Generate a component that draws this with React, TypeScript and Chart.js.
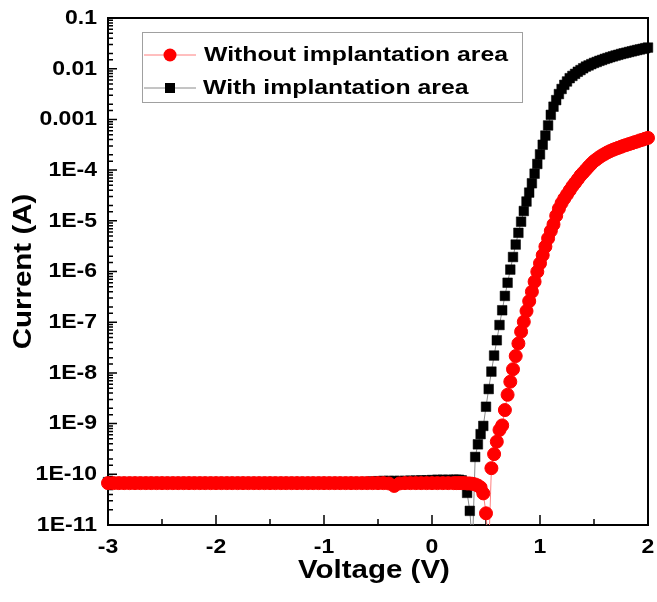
import React, { useEffect, useRef } from "react";
import { Chart, registerables } from "chart.js";

Chart.register(...registerables);

// Bias voltage (V)
const voltage = [
  -3.0, -2.95, -2.9, -2.85, -2.8, -2.75, -2.7, -2.65, -2.6, -2.55,
  -2.5, -2.45, -2.4, -2.35, -2.3, -2.25, -2.2, -2.15, -2.1, -2.05,
  -2.0, -1.95, -1.9, -1.85, -1.8, -1.75, -1.7, -1.65, -1.6, -1.55,
  -1.5, -1.45, -1.4, -1.35, -1.3, -1.25, -1.2, -1.15, -1.1, -1.05,
  -1.0, -0.95, -0.9, -0.85, -0.8, -0.75, -0.7, -0.65, -0.6, -0.55,
  -0.5, -0.45, -0.4, -0.35, -0.3, -0.25, -0.2, -0.15, -0.1, -0.05,
  0.0, 0.05, 0.1, 0.15, 0.2,
  0.225, 0.25, 0.275, 0.3, 0.325, 0.35, 0.375, 0.4, 0.425, 0.45,
  0.475, 0.5, 0.525, 0.55, 0.575, 0.6, 0.625, 0.65, 0.675, 0.7,
  0.725, 0.75, 0.775, 0.8, 0.825, 0.85, 0.875, 0.9, 0.925, 0.95,
  0.975, 1.0, 1.025, 1.05, 1.075, 1.1, 1.125, 1.15, 1.175, 1.2,
  1.225, 1.25, 1.275, 1.3, 1.325, 1.35, 1.375, 1.4, 1.425, 1.45,
  1.475, 1.5, 1.525, 1.55, 1.575, 1.6, 1.625, 1.65, 1.675, 1.7,
  1.725, 1.75, 1.775, 1.8, 1.825, 1.85, 1.875, 1.9, 1.925, 1.95,
  1.975, 2.0,
];

// Current (A) without implantation area (red circles)
const currentWithout = [
  6.7e-11, 6.7e-11, 6.7e-11, 6.7e-11, 6.7e-11, 6.7e-11, 6.7e-11, 6.7e-11, 6.7e-11, 6.7e-11,
  6.7e-11, 6.7e-11, 6.7e-11, 6.7e-11, 6.7e-11, 6.7e-11, 6.7e-11, 6.7e-11, 6.7e-11, 6.7e-11,
  6.7e-11, 6.7e-11, 6.7e-11, 6.7e-11, 6.7e-11, 6.7e-11, 6.7e-11, 6.7e-11, 6.7e-11, 6.7e-11,
  6.7e-11, 6.7e-11, 6.7e-11, 6.7e-11, 6.7e-11, 6.7e-11, 6.7e-11, 6.7e-11, 6.7e-11, 6.7e-11,
  6.7e-11, 6.7e-11, 6.7e-11, 6.7e-11, 6.7e-11, 6.7e-11, 6.7e-11, 6.7e-11, 6.7e-11, 6.7e-11,
  6.7e-11, 6.7e-11, 6.6e-11, 5.9e-11, 6.6e-11, 6.7e-11, 6.7e-11, 6.7e-11, 6.7e-11, 6.7e-11,
  6.7e-11, 6.7e-11, 6.7e-11, 6.7e-11, 6.7e-11,
  6.7e-11, 6.7e-11, 6.7e-11, 6.7e-11, 6.6e-11, 6.6e-11, 6.5e-11, 6.3e-11, 6.0e-11, 5.5e-11,
  4.2e-11, 1.7e-11, 3e-12, 1.32e-10, 2.5e-10, 4.4e-10, 7.5e-10, 9.2e-10, 1.85e-9, 3.7e-9,
  6.7e-9, 1.18e-8, 2.15e-8, 3.8e-8, 6.5e-8, 1.02e-7, 1.66e-7, 2.6e-7, 4.0e-7, 6.3e-7,
  9.9e-7, 1.45e-6, 2.1e-6, 3.1e-6, 4.5e-6, 6.3e-6, 8.5e-6, 1.26e-5, 1.74e-5, 2.24e-5,
  2.75e-5, 3.3e-5, 3.98e-5, 4.8e-5, 5.6e-5, 6.6e-5, 7.8e-5, 8.9e-5, 1.02e-4, 1.17e-4,
  1.33e-4, 1.5e-4, 1.64e-4, 1.8e-4, 1.95e-4, 2.09e-4, 2.24e-4, 2.37e-4, 2.51e-4, 2.63e-4,
  2.75e-4, 2.88e-4, 3.02e-4, 3.13e-4, 3.27e-4, 3.39e-4, 3.55e-4, 3.67e-4, 3.85e-4, 3.98e-4,
  4.17e-4, 4.32e-4,
];

// Current (A) with implantation area (black squares)
const currentWith = [
  7.0e-11, 7.0e-11, 7.0e-11, 7.0e-11, 7.0e-11, 7.0e-11, 7.0e-11, 7.0e-11, 7.0e-11, 7.0e-11,
  7.0e-11, 7.0e-11, 7.0e-11, 7.0e-11, 7.0e-11, 7.0e-11, 7.0e-11, 7.0e-11, 7.0e-11, 7.0e-11,
  7.0e-11, 7.0e-11, 7.0e-11, 7.0e-11, 7.0e-11, 7.0e-11, 7.0e-11, 7.0e-11, 7.0e-11, 7.0e-11,
  7.0e-11, 7.0e-11, 7.0e-11, 7.0e-11, 7.0e-11, 7.0e-11, 7.0e-11, 7.0e-11, 7.0e-11, 7.0e-11,
  7.0e-11, 7.0e-11, 7.0e-11, 7.0e-11, 7.0e-11, 7.0e-11, 7.0e-11, 7.0e-11, 7.1e-11, 7.2e-11,
  7.3e-11, 7.4e-11, 7.4e-11, 7.4e-11, 7.4e-11, 7.4e-11, 7.5e-11, 7.5e-11, 7.6e-11, 7.6e-11,
  7.7e-11, 7.8e-11, 7.8e-11, 7.8e-11, 7.8e-11,
  7.8e-11, 7.8e-11, 7.6e-11, 6.8e-11, 4.3e-11, 1.9e-11, 4e-12, 2.2e-10, 3.9e-10, 6.2e-10,
  9.0e-10, 2.15e-9, 4.8e-9, 1.06e-8, 2.2e-8, 4.4e-8, 8.8e-8, 1.72e-7, 3.3e-7, 6.0e-7,
  1.09e-6, 1.93e-6, 3.4e-6, 5.8e-6, 9.6e-6, 1.56e-5, 2.4e-5, 3.6e-5, 5.5e-5, 8.5e-5,
  1.32e-4, 2.04e-4, 3.16e-4, 4.8e-4, 7.6e-4, 1.23e-3, 1.78e-3, 2.4e-3, 3.16e-3, 3.98e-3,
  4.8e-3, 5.6e-3, 6.5e-3, 7.2e-3, 7.9e-3, 8.7e-3, 9.4e-3, 1.02e-2, 1.1e-2, 1.16e-2,
  1.23e-2, 1.3e-2, 1.36e-2, 1.43e-2, 1.49e-2, 1.56e-2, 1.62e-2, 1.69e-2, 1.75e-2, 1.82e-2,
  1.88e-2, 1.95e-2, 2.01e-2, 2.07e-2, 2.14e-2, 2.2e-2, 2.27e-2, 2.34e-2, 2.4e-2, 2.47e-2,
  2.54e-2, 2.61e-2,
];

const seriesLabels = ["Without implantation area", "With implantation area"];
const yTickLabels = ["0.1", "0.01", "0.001", "1E-4", "1E-5", "1E-6", "1E-7", "1E-8", "1E-9", "1E-10", "1E-11"];
const xTickLabels = ["-3", "-2", "-1", "0", "1", "2"];
const xTitle = "Voltage (V)";
const yTitle = "Current (A)";

const FONT = '"Liberation Sans", Arial, Helvetica, sans-serif';
const STRETCH = 1.18;

const isMajorLog = (v: number) => {
  const e = Math.log10(v);
  return Math.abs(e - Math.round(e)) < 1e-6;
};

function wideText(ctx: any, text: string, x: number, y: number, align: string, size: number, rotate = 0) {
  ctx.save();
  ctx.translate(x, y);
  if (rotate) ctx.rotate(rotate);
  ctx.scale(STRETCH, 1);
  ctx.font = `bold ${size}px ${FONT}`;
  ctx.textAlign = align;
  ctx.textBaseline = "middle";
  ctx.fillStyle = "#000";
  ctx.fillText(text, 0, 0);
  ctx.restore();
}

const axesPlugin = {
  id: "inwardAxes",
  beforeDatasetsDraw(chart: any) {
    const { ctx, chartArea: a, scales } = chart;
    const xs = scales.x;
    const ys = scales.y;
    ctx.save();
    ctx.strokeStyle = "#000";
    ctx.lineWidth = 1.5;
    ctx.beginPath();
    ys.ticks.forEach((t: any) => {
      const py = ys.getPixelForValue(t.value);
      const len = isMajorLog(t.value) ? 9 : 5;
      ctx.moveTo(a.left, py);
      ctx.lineTo(a.left + len, py);
    });
    for (let i = 0; i <= 10; i++) {
      const v = xs.min + i * 0.5;
      const px = xs.getPixelForValue(v);
      const len = i % 2 === 0 ? 10 : 6;
      ctx.moveTo(px, a.bottom);
      ctx.lineTo(px, a.bottom - len);
    }
    ctx.stroke();
    ctx.lineWidth = 2;
    ctx.strokeRect(a.left, a.top, a.right - a.left, a.bottom - a.top);
    ctx.restore();
  },
  afterDraw(chart: any) {
    const { ctx, chartArea: a, scales } = chart;
    const xs = scales.x;
    const ys = scales.y;
    ys.ticks.forEach((t: any) => {
      if (!isMajorLog(t.value)) return;
      const e = Math.round(Math.log10(t.value));
      const label = yTickLabels[-1 - e];
      if (label) wideText(ctx, label, 97, ys.getPixelForValue(t.value) + 0.5, "right", 19.5);
    });
    xTickLabels.forEach((label) => {
      wideText(ctx, label, xs.getPixelForValue(Number(label)), a.bottom + 23, "center", 19.5);
    });
    wideText(ctx, xTitle, (a.left + a.right) / 2 - 4, 571, "center", 25);
    wideText(ctx, yTitle, 24, (a.top + a.bottom) / 2, "center", 25, -Math.PI / 2);
  },
};

const legendPlugin = {
  id: "insideLegend",
  afterDraw(chart: any) {
    const { ctx } = chart;
    const ds = chart.data.datasets;
    ctx.save();
    ctx.strokeStyle = "#a0a0a0";
    ctx.lineWidth = 1;
    ctx.strokeRect(142.5, 32.5, 380, 70);
    const rows = [55, 88];
    ds.forEach((d: any, i: number) => {
      const y = rows[i];
      ctx.strokeStyle = d.borderColor;
      ctx.lineWidth = 1;
      ctx.beginPath();
      ctx.moveTo(144, y);
      ctx.lineTo(196, y);
      ctx.stroke();
      ctx.fillStyle = d.pointBackgroundColor;
      if (d.pointStyle === "circle") {
        ctx.beginPath();
        ctx.arc(170, y, 6.5, 0, Math.PI * 2);
        ctx.fill();
      } else {
        ctx.fillRect(165, y - 5, 10, 10);
      }
      wideText(ctx, d.label, i === 0 ? 204 : 203, y, "left", 21);
    });
    ctx.restore();
  },
};

export default function App() {
  const ref = useRef<HTMLCanvasElement | null>(null);

  useEffect(() => {
    if (!ref.current) return;
    const chart = new Chart(ref.current, {
      type: "line",
      data: {
        labels: voltage,
        datasets: [
          {
            label: seriesLabels[0],
            data: voltage.map((v, i) => ({ x: v, y: currentWithout[i] })),
            borderColor: "#ff7f7f",
            borderWidth: 1,
            pointStyle: "circle",
            pointRadius: 6.5,
            pointBorderWidth: 1,
            pointBackgroundColor: "#ff0000",
            pointBorderColor: "#ff0000",
            clip: { left: 10, right: 10, top: 10, bottom: 0 },
          },
          {
            label: seriesLabels[1],
            data: voltage.map((v, i) => ({ x: v, y: currentWith[i] })),
            borderColor: "#8a8a8a",
            borderWidth: 1,
            pointStyle: "rect",
            pointRadius: 6.8,
            pointBorderWidth: 0.5,
            pointBackgroundColor: "#000000",
            pointBorderColor: "#000000",
            clip: { left: 10, right: 10, top: 10, bottom: 0 },
          },
        ],
      },
      options: {
        animation: false,
        responsive: false,
        devicePixelRatio: 1,
        layout: { padding: { left: 0, top: 18, right: 9, bottom: 0 } },
        plugins: {
          legend: { display: false },
          tooltip: { enabled: false },
        },
        elements: { line: { tension: 0 } },
        scales: {
          x: {
            type: "linear",
            position: "bottom",
            min: -3,
            max: 2,
            afterFit: (s: any) => {
              s.height = 77;
            },
            ticks: { display: false, stepSize: 1 },
            grid: { display: false, drawTicks: false },
            border: { display: false },
            title: { display: false },
          },
          y: {
            type: "logarithmic",
            position: "left",
            min: 1e-11,
            max: 0.1,
            afterFit: (s: any) => {
              s.width = 108;
            },
            ticks: { display: false, autoSkip: false },
            grid: { display: false, drawTicks: false },
            border: { display: false },
            title: { display: false },
          },
        },
      },
      plugins: [axesPlugin, legendPlugin],
    });
    return () => chart.destroy();
  }, []);

  return (
    <div style={{ position: "fixed", left: 0, top: 0, width: 657, height: 602, background: "#fff" }}>
      <canvas ref={ref} width={657} height={602} style={{ width: 657, height: 602 }} />
    </div>
  );
}
